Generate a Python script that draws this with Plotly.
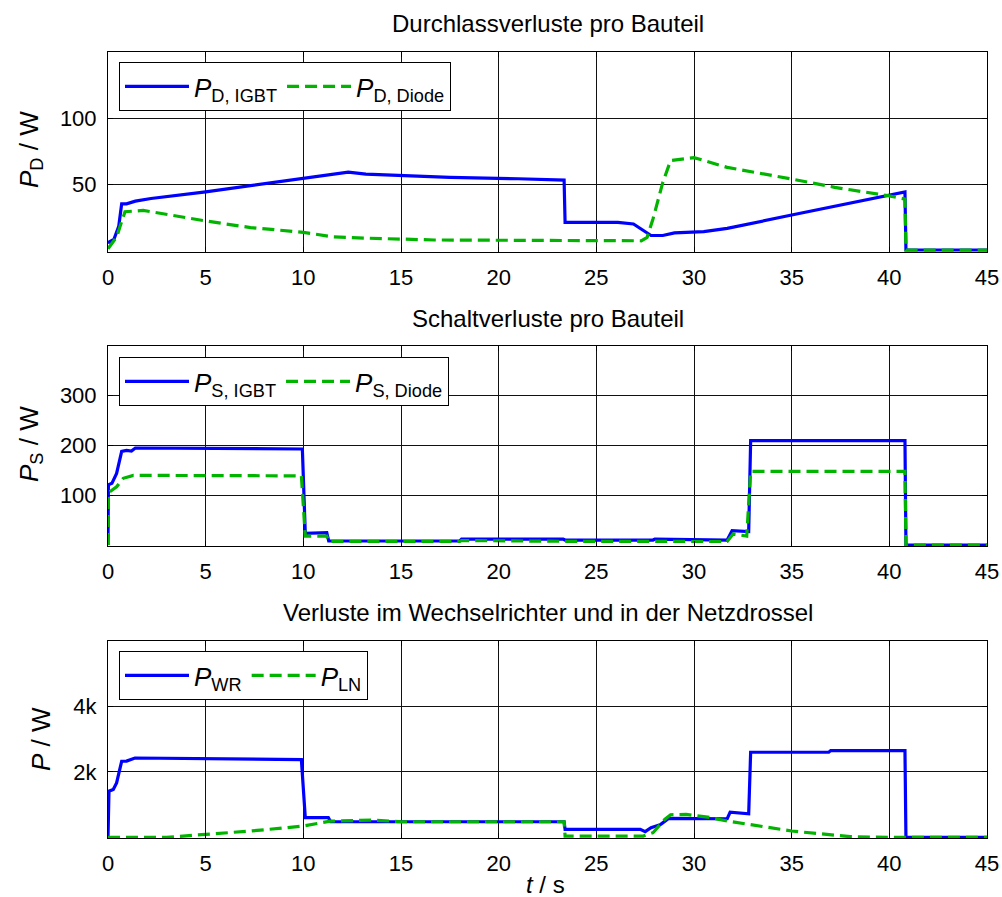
import plotly.graph_objects as go

# ---------------- data ----------------
t_d_igbt = [0, 0.05, 0.3, 0.55, 0.7, 0.95, 1.4, 2.2, 5, 7.5, 10, 11.5, 12.3, 13.2, 15.5, 17.5,
            21, 23.35, 23.4, 26.1, 26.9, 27.2, 27.5, 27.8, 28.4, 29, 30.5, 31.7, 35, 40, 40.8, 40.85, 45]
p_d_igbt = [5, 6, 8, 18, 35, 35, 37, 39, 44, 49, 54, 57, 59, 57.5, 56, 55,
            54, 53, 21, 21, 19.7, 17, 14, 11, 11, 13, 14, 16.4, 26.5, 42, 44, 0, 0]

t_d_diode = [0, 0.2, 0.45, 0.62, 0.87, 1.8, 3, 5, 7.3, 10, 11.5, 13.2, 16.7, 27.3, 27.6, 27.9,
             28.4, 28.8, 30, 31.7, 35, 37.2, 40, 40.8, 40.85, 45]
p_d_diode = [1, 5, 10, 18, 29, 30, 27, 22, 17, 13.4, 10, 9, 7.6, 7, 9.6, 23.5,
             51, 67.7, 70, 62.6, 53.8, 47.5, 41, 38.6, 0, 0]

t_s_igbt = [0, 0.02, 0.2, 0.44, 0.7, 0.95, 1.2, 1.4, 9.95, 10.1, 11.2, 11.3, 18, 18.1, 23.3, 23.4,
            27.9, 28, 31.7, 31.95, 32.8, 32.9, 40.8, 40.85, 45]
p_s_igbt = [0, 121, 124, 144, 188, 190, 189, 195, 193, 23.5, 25, 8, 8, 12, 12, 10,
            10, 12, 10, 29, 27, 210, 210, 0, 0]

t_s_diode = [0, 0.02, 0.44, 0.78, 1.3, 9.9, 10.1, 11.2, 11.3, 18, 18.1, 23.3, 23.4, 31.7, 32,
             32.7, 32.9, 40.8, 40.85, 45]
p_s_diode = [0, 105, 117, 134, 140, 139, 18, 18, 7, 7, 9, 9, 7.4, 7, 22,
             18, 148, 148, 0, 0]

t_wr = [0, 0.05, 0.27, 0.44, 0.7, 0.95, 1.38, 9.9, 10.1, 11.28, 11.4, 23.35, 23.4, 27.25, 27.5,
        27.8, 28.3, 28.7, 31.7, 31.85, 32.8, 32.9, 36.9, 37.0, 40.8, 40.85, 45]
p_wr = [0, 1410, 1460, 1665, 2325, 2330, 2425, 2375, 600, 600, 477, 477, 244, 244, 173,
        294, 396, 579, 568, 771, 720, 2600, 2600, 2650, 2650, 0, 0]

t_ln = [0, 3, 5, 7.3, 10, 11.4, 13.6, 15, 23.35, 23.4, 27.4, 27.9, 28.5, 28.8, 29.6, 30.7,
        31.7, 35, 38, 40, 45]
p_ln = [0, 0, 91, 193, 345, 497, 528, 477, 477, 40, 40, 142, 548, 690, 700, 620,
        497, 193, 20, 0, 0]

x_ticks = [0, 5, 10, 15, 20, 25, 30, 35, 40, 45]
y1_ticks = [50, 100]
y2_ticks = [100, 200, 300]
y3_ticks = [2000, 4000]
y3_ticktext = ["2k", "4k"]

titles = ["Durchlassverluste pro Bauteil", "Schaltverluste pro Bauteil",
          "Verluste im Wechselrichter und in der Netzdrossel"]

# ---------------- figure ----------------
W, H = 1002, 897
FONT = "Liberation Sans, Arial, sans-serif"
BLUE = "#0000ff"
GREEN = "#00b400"
LW = 3.2
DASH = "12px,6px"

def px_x(p):
    return p / W

def px_y(p):
    return 1 - p / H

fig = go.Figure()

series = [
    (t_d_igbt, p_d_igbt, "<i>P</i><sub>D, IGBT</sub>", BLUE, "solid", "x", "y", "legend"),
    (t_d_diode, p_d_diode, "<i>P</i><sub>D, Diode</sub>", GREEN, DASH, "x", "y", "legend"),
    (t_s_igbt, p_s_igbt, "<i>P</i><sub>S, IGBT</sub>", BLUE, "solid", "x2", "y2", "legend2"),
    (t_s_diode, p_s_diode, "<i>P</i><sub>S, Diode</sub>", GREEN, DASH, "x2", "y2", "legend2"),
    (t_wr, p_wr, "<i>P</i><sub>WR</sub>", BLUE, "solid", "x3", "y3", "legend3"),
    (t_ln, p_ln, "<i>P</i><sub>LN</sub>", GREEN, DASH, "x3", "y3", "legend3"),
]
for tx, ty, name, col, dash, xa, ya, lg in series:
    fig.add_trace(go.Scatter(x=tx, y=ty, mode="lines", name=name,
                             line=dict(color=col, width=LW, dash=dash),
                             xaxis=xa, yaxis=ya, legend=lg))

xdom = [px_x(108), px_x(987)]
ydoms = [[px_y(252), px_y(52)], [px_y(546), px_y(346)], [px_y(838), px_y(641)]]
yranges = [[-1.5, 150], [-2, 400], [-20, 6000]]
ytickvals = [y1_ticks, y2_ticks, y3_ticks]
yticktexts = [[str(v) for v in y1_ticks], [str(v) for v in y2_ticks], y3_ticktext]

common = dict(showline=True, linecolor="black", linewidth=1, mirror="ticks",
              ticks="inside", ticklen=5, tickcolor="black", tickwidth=1,
              showgrid=True, gridcolor="#111111", gridwidth=1, zeroline=False,
              automargin=False,
              tickfont=dict(family=FONT, size=22, color="black"),
              ticklabelstandoff=6)

layout = dict(width=W, height=H, margin=dict(l=0, r=0, t=0, b=0, pad=0, autoexpand=False),
              paper_bgcolor="white", plot_bgcolor="white",
              font=dict(family=FONT, color="black"), showlegend=True)

for i in range(3):
    sx = "" if i == 0 else str(i + 1)
    layout["xaxis" + sx] = dict(domain=xdom, anchor="y" + sx, range=[0, 45],
                                tickvals=x_ticks, **common)
    layout["yaxis" + sx] = dict(domain=ydoms[i], anchor="x" + sx, range=yranges[i],
                                tickvals=ytickvals[i], ticktext=yticktexts[i], **common)

legend_tops = [62, 357, 651]
for i in range(3):
    key = "legend" if i == 0 else "legend" + str(i + 1)
    layout[key] = dict(x=px_x(119), y=px_y(legend_tops[i]), xanchor="left", yanchor="top",
                       orientation="h", bgcolor="white", bordercolor="black", borderwidth=1,
                       font=dict(family=FONT, size=26, color="black"),
                       itemwidth=64, tracegroupgap=0)

fig.update_layout(**layout)

title_y = [24, 318, 612]
for i in range(3):
    fig.add_annotation(text=titles[i], xref="paper", yref="paper",
                       x=px_x(547.5), y=px_y(title_y[i]), xanchor="center", yanchor="middle",
                       showarrow=False, font=dict(family=FONT, size=24, color="black"))

ylabels = ["<i>P</i><sub>D</sub> / W", "<i>P</i><sub>S</sub> / W", "<i>P</i> / W"]
ylab_x = [30, 30, 41]
ylab_y = [150, 444, 739]
for i in range(3):
    fig.add_annotation(text=ylabels[i], xref="paper", yref="paper",
                       x=px_x(ylab_x[i]), y=px_y(ylab_y[i]), xanchor="center", yanchor="middle",
                       textangle=-90, showarrow=False,
                       font=dict(family=FONT, size=26, color="black"))

fig.add_annotation(text="<i>t</i> / s", xref="paper", yref="paper",
                   x=px_x(545), y=px_y(884), xanchor="center", yanchor="middle",
                   showarrow=False, font=dict(family=FONT, size=24, color="black"))

fig.write_html("out.html")
